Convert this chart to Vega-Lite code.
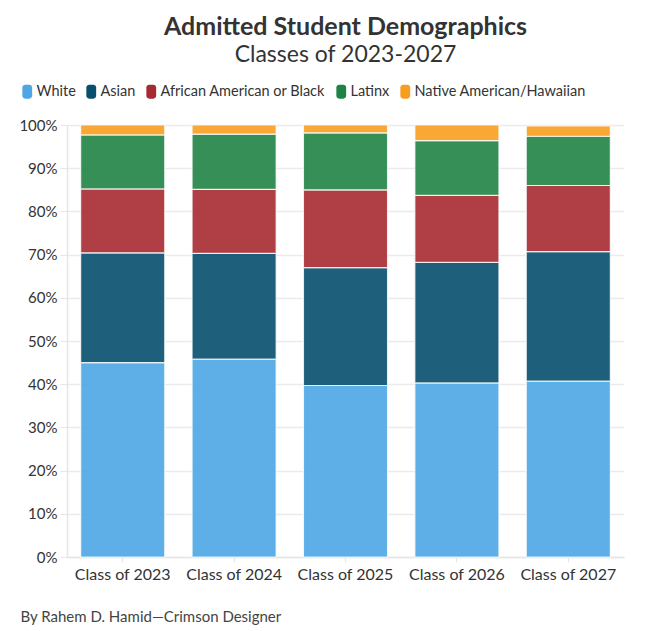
{
  "$schema": "https://vega.github.io/schema/vega-lite/v6.json",
  "width": 557,
  "height": 432,
  "autosize": {"type": "none"},
  "padding": {"left": 67, "top": 125, "right": 47, "bottom": 74},
  "background": "white",
  "config": {
    "font": "Lato",
    "view": {"stroke": null}
  },
  "title": {
    "text": "Admitted Student Demographics",
    "subtitle": "Classes of 2023-2027",
    "anchor": "middle",
    "font": "Lato",
    "fontSize": 25,
    "fontWeight": "bold",
    "color": "#333333",
    "subtitleFont": "Lato",
    "subtitleFontSize": 23,
    "subtitleColor": "#333333",
    "subtitlePadding": 4,
    "offset": 17
  },
  "data": {
    "values": [
      {"cls": "Class of 2023", "group": "White", "pct": 45.0},
      {"cls": "Class of 2023", "group": "Asian", "pct": 25.4},
      {"cls": "Class of 2023", "group": "African American or Black", "pct": 14.8},
      {"cls": "Class of 2023", "group": "Latinx", "pct": 12.5},
      {"cls": "Class of 2023", "group": "Native American/Hawaiian", "pct": 2.3},
      {"cls": "Class of 2024", "group": "White", "pct": 45.8},
      {"cls": "Class of 2024", "group": "Asian", "pct": 24.5},
      {"cls": "Class of 2024", "group": "African American or Black", "pct": 14.8},
      {"cls": "Class of 2024", "group": "Latinx", "pct": 12.8},
      {"cls": "Class of 2024", "group": "Native American/Hawaiian", "pct": 2.1},
      {"cls": "Class of 2025", "group": "White", "pct": 39.7},
      {"cls": "Class of 2025", "group": "Asian", "pct": 27.3},
      {"cls": "Class of 2025", "group": "African American or Black", "pct": 18.0},
      {"cls": "Class of 2025", "group": "Latinx", "pct": 13.2},
      {"cls": "Class of 2025", "group": "Native American/Hawaiian", "pct": 1.8},
      {"cls": "Class of 2026", "group": "White", "pct": 40.3},
      {"cls": "Class of 2026", "group": "Asian", "pct": 27.9},
      {"cls": "Class of 2026", "group": "African American or Black", "pct": 15.5},
      {"cls": "Class of 2026", "group": "Latinx", "pct": 12.7},
      {"cls": "Class of 2026", "group": "Native American/Hawaiian", "pct": 3.6},
      {"cls": "Class of 2027", "group": "White", "pct": 40.7},
      {"cls": "Class of 2027", "group": "Asian", "pct": 30.0},
      {"cls": "Class of 2027", "group": "African American or Black", "pct": 15.3},
      {"cls": "Class of 2027", "group": "Latinx", "pct": 11.4},
      {"cls": "Class of 2027", "group": "Native American/Hawaiian", "pct": 2.4}
    ]
  },
  "transform": [
    {"calculate": "indexof(['White', 'Asian', 'African American or Black', 'Latinx', 'Native American/Hawaiian'], datum.group)", "as": "stackRank"}
  ],
  "mark": {"type": "bar", "fillOpacity": 0.9, "stroke": "white", "strokeWidth": 1.2, "strokeOpacity": 0.8},
  "encoding": {
    "x": {
      "field": "cls",
      "type": "nominal",
      "sort": null,
      "scale": {"paddingInner": 0.245, "paddingOuter": 0.1225},
      "axis": {
        "title": "By Rahem D. Hamid\u2014Crimson Designer",
        "titleAnchor": "start",
        "titleAlign": "left",
        "titleBaseline": "alphabetic",
        "titleX": -47,
        "titleY": 64,
        "titleFont": "Lato",
        "titleFontSize": 15,
        "titleFontWeight": "normal",
        "titleColor": "#444444",
        "labelAngle": 0,
        "labelFontSize": 16,
        "labelColor": "#333333",
        "labelPadding": 4,
        "tickColor": "#e6e6e6",
        "tickSize": 5,
        "domainColor": "#e6e6e6",
        "domainWidth": 1.5
      }
    },
    "y": {
      "field": "pct",
      "type": "quantitative",
      "stack": "zero",
      "scale": {"domain": [0, 100], "nice": false},
      "axis": {
        "title": null,
        "values": [0, 10, 20, 30, 40, 50, 60, 70, 80, 90, 100],
        "labelExpr": "datum.value + '%'",
        "labelFontSize": 15,
        "labelColor": "#333333",
        "labelPadding": 3,
        "tickColor": "#e6e6e6",
        "tickSize": 7,
        "gridColor": "#ebebeb",
        "gridWidth": 1.5,
        "domainColor": "#e6e6e6",
        "domainWidth": 1.5
      }
    },
    "order": {"field": "stackRank", "type": "quantitative", "sort": "ascending"},
    "color": {
      "field": "group",
      "type": "nominal",
      "sort": ["White", "Asian", "African American or Black", "Latinx", "Native American/Hawaiian"],
      "scale": {
        "domain": ["White", "Asian", "African American or Black", "Latinx", "Native American/Hawaiian"],
        "range": ["#4DA6E6", "#064F6D", "#A62A31", "#208345", "#F89D1F"]
      },
      "legend": {
        "title": null,
        "orient": "none",
        "direction": "horizontal",
        "legendX": -47,
        "legendY": -41,
        "symbolType": "M -0.3 -1 H 0.3 A 0.4 0.4 0 0 1 0.7 -0.6 V 0.6 A 0.4 0.4 0 0 1 0.3 1 H -0.3 A 0.4 0.4 0 0 1 -0.7 0.6 V -0.6 A 0.4 0.4 0 0 1 -0.3 -1 Z",
        "symbolSize": 196,
        "symbolOpacity": 1,
        "symbolStrokeWidth": 0,
        "labelFontSize": 14.5,
        "labelColor": "#333333",
        "labelOffset": 2,
        "labelLimit": 0,
        "columnPadding": 8,
        "symbolOffset": 0
      }
    }
  }
}
